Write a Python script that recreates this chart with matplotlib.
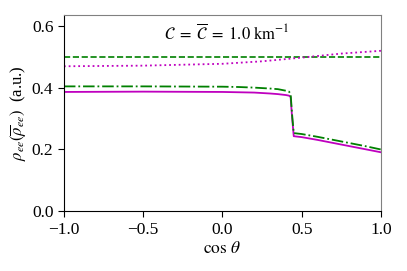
import matplotlib
matplotlib.use("Agg")
import matplotlib.pyplot as plt

plt.rcParams['font.family'] = ['Liberation Serif', 'DejaVu Serif']
plt.rcParams['mathtext.fontset'] = 'stix'

x_solid = [-1.0, -0.5, 0.0, 0.1, 0.2, 0.3, 0.35, 0.4, 0.42, 0.43, 0.44, 0.45, 0.5, 0.6, 0.7, 0.8, 0.9, 1.0]
rho_ee = [0.386, 0.387, 0.386, 0.385, 0.384, 0.381, 0.379, 0.376, 0.374, 0.370, 0.300, 0.243, 0.240, 0.231, 0.221, 0.211, 0.201, 0.191]
rhobar_ee = [0.404, 0.404, 0.403, 0.402, 0.400, 0.397, 0.395, 0.390, 0.387, 0.380, 0.310, 0.253, 0.250, 0.241, 0.231, 0.221, 0.211, 0.200]
x_init = [-1.0, -0.5, 0.0, 0.25, 0.5, 0.75, 1.0]
rho_init = [0.469, 0.471, 0.477, 0.485, 0.497, 0.510, 0.519]
rhobar_init = [0.5, 0.5, 0.5, 0.5, 0.5, 0.5, 0.5]

fig = plt.figure(figsize=(4.07, 2.71), dpi=100)
ax = fig.add_axes([0.157, 0.220, 0.779, 0.725])

ax.plot(x_init, rhobar_init, color='green', ls='--', lw=1.2)
ax.plot(x_init, rho_init, color='m', ls=':', lw=1.3)
ax.plot(x_solid, rho_ee, color='m', ls='-', lw=1.3)
ax.plot(x_solid, rhobar_ee, color='green', ls='-.', lw=1.3)

ax.set_xlim(-1, 1)
ax.set_ylim(0, 0.635)
ax.set_xticks([-1.0, -0.5, 0.0, 0.5, 1.0])
ax.set_xticklabels(['\u22121.0', '\u22120.5', '0.0', '0.5', '1.0'])
ax.set_yticks([0.0, 0.2, 0.4, 0.6])
ax.set_yticklabels(['0.0', '0.2', '0.4', '0.6'])
ax.tick_params(labelsize=12.5, direction='out', length=4, top=False, right=False)
for s in ['top', 'right']:
    ax.spines[s].set_color('#808080')
ax.set_xlabel(r'$\cos\,\theta$', fontsize=12.5, labelpad=2)
ax.set_ylabel(r'$\rho_{ee}(\overline{\rho}_{ee})\ $ (a.u.)', fontsize=12, labelpad=2)
ax.text(0.03, 0.575, r'$\mathcal{C}\;=\;\overline{\mathcal{C}}\;=\;1.0\ \mathrm{km}^{-1}$',
        ha='center', va='center', fontsize=12)

fig.savefig('out.png', dpi=100)
